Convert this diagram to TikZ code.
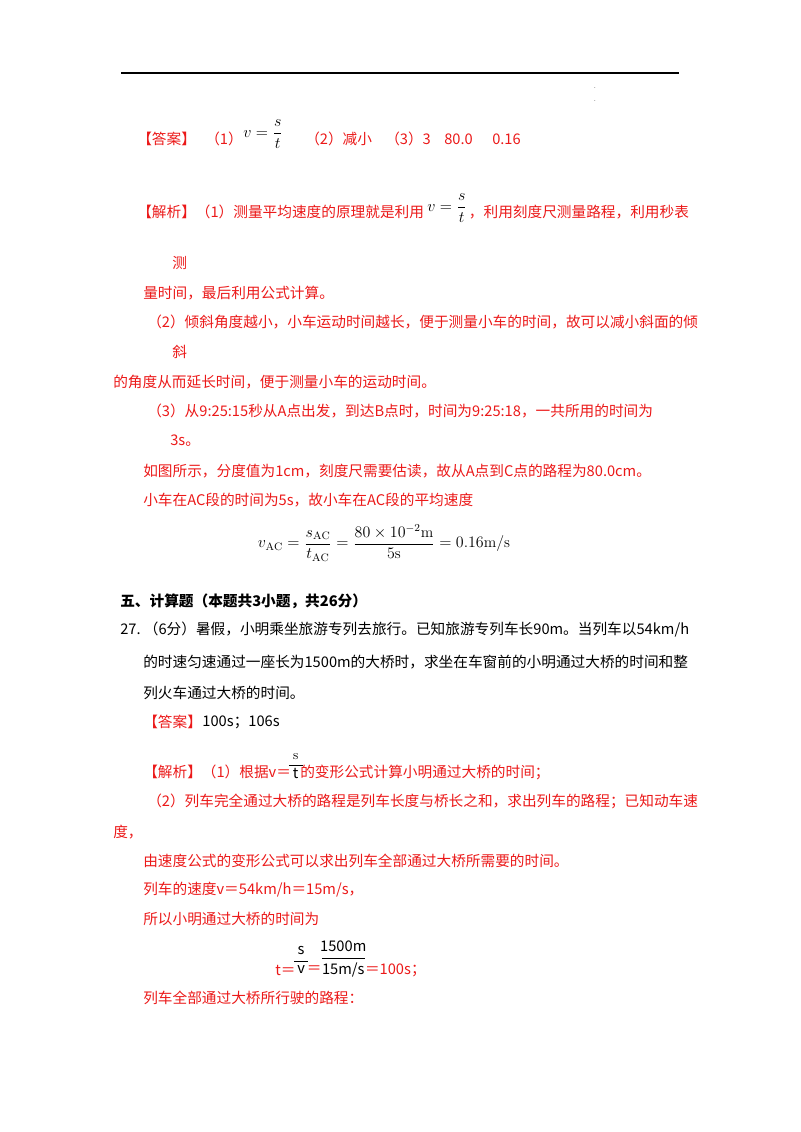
\documentclass[tikz,border=0pt]{standalone}
\usepackage{amsmath}
\usepackage{fontspec}
\newfontfamily\cjk{Noto Sans CJK SC}
\usepackage{tikz}
\usetikzlibrary{positioning}
\definecolor{jred}{RGB}{235,25,25}

\begin{document}
\begin{tikzpicture}[x=0.75pt,y=-0.75pt,every node/.style={inner sep=0pt},
  txt/.style={anchor=west,font=\cjk\fontsize{11}{13}\selectfont},
  rtxt/.style={txt,text=jred},
  eqn/.style={font=\fontsize{11.5}{13}\selectfont}]
\useasboundingbox (0,0) rectangle (800,1132);
\coordinate (rl) at (121,73);
\coordinate (rr) at (679,73);
\draw[line width=1pt] (rl) -- (rr);
\node (d1) at (595,88) {\tiny.};
\node (d2) at (595,101) {\tiny.};
% answer (1)-(3)
\node[rtxt] (A) at (137,139) {【答案】};
\node[rtxt] (A1) at (205,139) {（1）};
\node[eqn,anchor=west] (Av) at (243,134) {$v=\dfrac{s}{t}$};
\node[rtxt] (A2) at (305,139) {（2）减小};
\node[rtxt] (A3) at (385,139) {（3）3};
\node[rtxt] (A4) at (444,139) {80.0};
\node[rtxt] (A5) at (492,139) {0.16};
% analysis
\node[rtxt] (J) at (137,212) {【解析】（1）测量平均速度的原理就是利用};
\node[eqn,right=2pt of J.east,anchor=west,yshift=3pt] (Jv) {$v=\dfrac{s}{t}$};
\node[rtxt] (J2) at ([xshift=1pt]Jv.east |- J.west) {，利用刻度尺测量路程，利用秒表};
\node[rtxt] (L1) at (172,263) {测};
\node[rtxt] (L2) at (143,293) {量时间，最后利用公式计算。};
\node[rtxt] (L3) at (147,322) {（2）倾斜角度越小，小车运动时间越长，便于测量小车的时间，故可以减小斜面的倾};
\node[rtxt] (L4) at (172,352) {斜};
\node[rtxt] (L5) at (113,382) {的角度从而延长时间，便于测量小车的运动时间。};
\node[rtxt] (L6) at (147,411) {（3）从9:25:15秒从A点出发，到达B点时，时间为9:25:18，一共所用的时间为};
\node[rtxt] (L7) at (170,441) {3s。};
\node[rtxt] (L8) at (143,471) {如图所示，分度值为1cm，刻度尺需要估读，故从A点到C点的路程为80.0cm。};
\node[rtxt] (L9) at (143,500) {小车在AC段的时间为5s，故小车在AC段的平均速度};
\node[eqn] (F1) at (384,543) {$v_{\mathrm{AC}}=\dfrac{s_{\mathrm{AC}}}{t_{\mathrm{AC}}}=\dfrac{80\times10^{-2}\mathrm{m}}{5\mathrm{s}}=0.16\mathrm{m/s}$};
% section five
\node[txt,font=\cjk\bfseries\fontsize{11}{13}\selectfont] (S) at (120,601) {五、计算题（本题共3小题，共26分）};
\node[txt] (Q1) at (120,630) {27.\ （6分）暑假，小明乘坐旅游专列去旅行。已知旅游专列车长90m。当列车以54km/h};
\node[txt] (Q2) at (143,662) {的时速匀速通过一座长为1500m的大桥时，求坐在车窗前的小明通过大桥的时间和整};
\node[txt] (Q3) at (143,693) {列火车通过大桥的时间。};
\node[rtxt] (B) at (143,722) {【答案】};
\node[txt] (B1) at (B.east) {100s；106s};
\node[rtxt] (K) at (143,772) {【解析】（1）根据v＝};
\node[txt,right=1pt of K.east,anchor=west,yshift=-1pt] (Kt) {t};
\node[font=\fontsize{10}{12}\selectfont,above=6pt of Kt] (Ks) {s};
\draw[semithick] ([xshift=-3pt,yshift=-4pt]Ks.south west) -- ([xshift=3pt,yshift=-4pt]Ks.south east);
\node[rtxt,right=1pt of Kt.east,anchor=west,yshift=1pt] (K2) {的变形公式计算小明通过大桥的时间；};
\node[rtxt] (M1) at (147,801) {（2）列车完全通过大桥的路程是列车长度与桥长之和，求出列车的路程；已知动车速};
\node[rtxt] (M2) at (113,832) {度，};
\node[rtxt] (M3) at (143,861) {由速度公式的变形公式可以求出列车全部通过大桥所需要的时间。};
\node[rtxt] (M4) at (143,890) {列车的速度v＝54km/h＝15m/s，};
\node[rtxt] (M5) at (143,919) {所以小明通过大桥的时间为};
% t = s/v
\node[rtxt] (T0) at (275,970) {t＝};
\node[txt,right=1pt of T0.east,anchor=west] (Tv) {v};
\node[txt,above=8pt of Tv] (Ts) {s};
\draw ([xshift=-2pt,yshift=3pt]Tv.north west) -- ([xshift=2pt,yshift=3pt]Tv.north east);
\node[rtxt,right=1pt of Tv.east,anchor=west] (T1) {＝};
\node[txt,right=0pt of T1.east,anchor=west] (Td) {15m/s};
\node[txt,above=8pt of Td] (Tn) {1500m};
\draw ([yshift=3pt]Td.north west) -- ([yshift=3pt]Td.north east);
\node[rtxt,right=0pt of Td.east,anchor=west] (T2) {＝100s；};
\node[rtxt] (M6) at (143,998) {列车全部通过大桥所行驶的路程：};
\end{tikzpicture}
\end{document}
